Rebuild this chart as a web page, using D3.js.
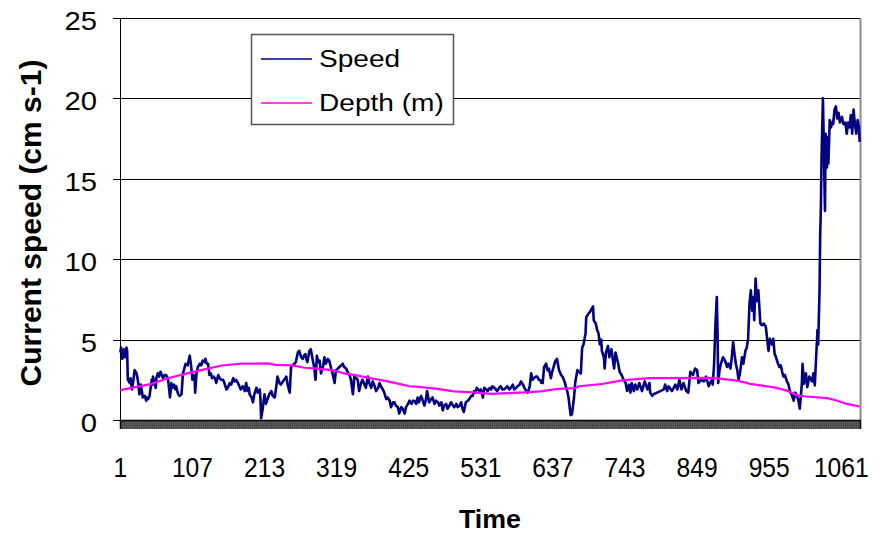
<!DOCTYPE html>
<html>
<head>
<meta charset="utf-8">
<script src="https://cdn.jsdelivr.net/npm/d3@7"></script>
<style>
  body { margin: 0; background: #fff; }
  svg { display: block; }
</style>
</head>
<body>
<svg id="chart" width="890" height="535"></svg>
<script>
// ---- data -------------------------------------------------------------
const categoryCount = 1088;                       // number of time steps on the category axis
const xTickLabels = [1, 107, 213, 319, 425, 531, 637, 743, 849, 955, 1061];
const yTicks = [0, 5, 10, 15, 20, 25];
const seriesNames = ["Speed", "Depth (m)"];
const seriesColors = ["#000080", "#FF00FF"];

// current speed (cm s-1): [time step, value]
const speed = [
  [1,4.2],[2,4.5],[4,3.8],[6,4.4],[8,3.9],[10,4.5],[11,4.3],[12,2.5],[15,2.3],[16,2.6],[18,1.9],[20,2.4],
  [22,3.1],[25,2.9],[27,2.4],[29,1.6],[31,2.2],[33,1.7],[34,1.4],[37,1.5],[39,1.2],[40,1.4],[42,1.3],[44,1.5],
  [47,2.5],[48,2.2],[49,2.7],[51,2.3],[53,2.0],[54,2.6],[56,2.9],[58,2.7],[60,3.0],[62,2.8],[64,2.6],[66,2.8],
  [68,2.8],[71,2.6],[74,1.4],[76,2.3],[78,2.0],[80,2.2],[82,1.9],[83,2.1],[86,1.6],[88,1.5],[91,1.6],[93,2.9],
  [95,3.2],[97,3.5],[100,3.4],[103,4.0],[105,3.4],[107,2.5],[110,2.8],[111,1.7],[113,2.9],[115,3.3],[118,3.5],
  [120,3.4],[122,3.7],[125,3.6],[126,3.8],[128,3.5],[130,3.5],[132,2.8],[134,2.9],[136,2.6],[138,2.7],[140,2.6],
  [142,2.3],[145,2.8],[147,2.6],[149,2.5],[152,2.5],[154,2.3],[157,1.9],[159,2.0],[162,2.3],[164,2.2],[167,2.6],
  [169,2.4],[171,2.5],[174,2.3],[176,2.1],[178,1.9],[181,2.1],[184,1.8],[186,2.3],[188,1.8],[190,2.0],[191,1.6],
  [194,1.4],[196,1.1],[198,1.6],[201,2.0],[203,1.7],[206,1.9],[207,1.3],[208,0.1],[210,0.6],[213,1.6],[215,1.0],
  [220,1.6],[223,1.8],[225,1.5],[228,1.4],[230,2.0],[232,2.7],[235,2.3],[237,2.2],[240,2.4],[242,2.5],[245,2.7],
  [247,2.2],[250,1.7],[252,3.3],[254,3.4],[257,3.5],[259,3.6],[262,4.2],[264,4.3],[267,3.9],[269,3.8],[271,4.0],
  [273,4.1],[275,3.7],[276,3.6],[279,4.3],[281,4.4],[284,3.7],[286,3.3],[288,2.5],[290,4.0],[292,3.6],[294,3.7],
  [296,2.9],[299,3.3],[301,3.9],[303,3.5],[306,3.8],[308,3.7],[311,3.2],[313,2.9],[316,2.3],[318,3.1],[321,3.2],
  [323,3.3],[326,3.4],[328,3.5],[330,3.3],[333,3.2],[335,3.0],[338,2.8],[340,2.5],[343,1.6],[345,2.7],[348,2.6],
  [350,2.5],[352,1.8],[355,2.3],[357,2.5],[360,2.2],[362,2.0],[365,2.7],[367,2.3],[370,2.0],[372,2.4],[375,2.1],
  [377,1.8],[380,2.0],[382,2.3],[384,2.1],[387,1.9],[389,1.7],[392,1.3],[394,1.4],[397,1.2],[399,0.8],[402,1.1],
  [404,1.1],[406,0.9],[409,0.8],[411,0.4],[414,0.8],[416,0.7],[419,0.4],[421,0.8],[424,1.0],[426,1.2],[429,1.0],
  [431,1.2],[433,1.2],[436,1.0],[438,1.4],[440,1.1],[443,1.5],[445,1.3],[448,0.9],[450,1.2],[452,1.8],[455,1.1],
  [458,1.3],[460,1.4],[463,1.0],[465,1.2],[468,1.1],[470,0.9],[473,1.1],[475,0.6],[477,0.9],[480,1.0],[482,0.7],
  [485,0.9],[487,1.1],[490,0.9],[492,0.8],[495,1.0],[497,0.8],[500,0.9],[502,1.1],[504,0.7],[506,0.5],[509,1.1],
  [512,1.2],[514,1.3],[517,1.5],[519,1.5],[521,1.8],[523,1.7],[525,2.0],[529,1.8],[531,1.9],[534,1.4],[536,2.0],
  [539,1.9],[541,1.8],[544,2.0],[546,1.9],[548,2.1],[551,2.0],[553,1.9],[555,1.8],[558,2.0],[560,2.1],[563,1.9],
  [565,1.9],[568,2.0],[570,2.1],[573,1.9],[575,2.0],[578,2.2],[580,1.9],[583,2.0],[585,2.1],[588,2.2],[590,2.4],
  [593,2.2],[595,2.0],[598,1.8],[600,1.7],[603,2.1],[605,2.9],[607,2.5],[609,2.6],[612,2.7],[614,2.7],[616,2.5],
  [618,2.5],[620,2.3],[622,2.3],[624,3.3],[627,3.5],[629,3.1],[631,3.2],[634,2.6],[636,3.0],[638,3.3],[640,3.6],
  [641,3.7],[643,3.8],[646,3.1],[649,2.8],[651,2.7],[653,2.5],[654,2.4],[658,1.8],[660,1.4],[663,0.3],[665,0.35],
  [668,1.4],[670,2.4],[673,3.1],[675,3.0],[678,2.9],[680,4.5],[682,4.7],[685,5.4],[686,6.4],[689,6.6],[691,6.7],
  [694,6.9],[696,7.07],[697,6.2],[700,6.0],[702,5.6],[704,5.4],[706,4.7],[708,5.0],[709,4.3],[712,3.9],[713,3.2],
  [715,4.2],[718,4.6],[720,3.9],[723,4.4],[727,3.2],[729,4.2],[733,3.5],[735,3.0],[738,2.8],[741,2.5],[744,2.3],
  [746,1.8],[749,2.2],[751,1.7],[753,2.3],[756,1.8],[758,2.2],[761,1.9],[764,2.3],[768,1.8],[772,2.4],[776,1.9],
  [779,2.3],[780,1.7],[783,1.5],[785,1.6],[790,1.7],[795,1.8],[800,1.9],[802,2.2],[805,1.8],[807,2.1],[812,1.8],
  [817,2.2],[820,1.9],[823,2.5],[826,1.9],[829,2.3],[833,1.8],[836,1.7],[839,3.0],[843,2.8],[846,3.2],[849,3.1],
  [851,2.3],[855,2.5],[859,2.4],[862,2.7],[866,2.1],[868,2.3],[871,2.5],[872,2.2],[874,3.5],[876,6.0],[878,7.65],
  [879,5.6],[880,2.3],[882,3.1],[884,3.5],[887,3.9],[890,3.7],[893,3.3],[895,3.5],[898,3.2],[900,3.9],[902,4.85],
  [904,4.1],[906,3.5],[908,3.1],[910,2.5],[912,2.9],[915,3.9],[917,3.5],[920,4.3],[922,4.5],[924,5.05],[926,7.2],
  [928,8.06],[930,6.8],[932,7.65],[933,6.2],[935,8.79],[937,7.4],[939,8.06],[942,6.0],[944,5.9],[947,6.0],[950,5.8],
  [952,5.05],[954,4.3],[956,5.05],[959,4.7],[961,5.05],[963,4.1],[965,3.9],[968,3.5],[970,3.3],[972,3.4],[974,3.0],
  [976,2.7],[978,2.8],[981,2.4],[983,2.25],[986,1.7],[988,1.6],[991,1.2],[993,1.7],[995,1.6],[998,1.2],[1000,0.7],
  [1003,2.25],[1004,3.5],[1006,2.25],[1009,2.9],[1011,2.05],[1014,2.7],[1018,2.4],[1020,2.9],[1022,2.15],[1024,3.9],
  [1026,5.6],[1027,4.7],[1029,8.06],[1030,11.6],[1031,13.25],[1032,16.4],[1034,20.0],[1035,17.8],[1037,13.0],
  [1038,17.8],[1040,15.7],[1041,17.6],[1042,15.95],[1044,18.65],[1046,18.2],[1047,18.5],[1049,18.4],[1051,19.3],
  [1053,19.5],[1055,18.75],[1057,19.1],[1059,18.5],[1062,18.85],[1064,18.4],[1067,18.5],[1069,17.8],[1071,18.5],
  [1073,18.2],[1075,18.96],[1077,17.8],[1079,19.3],[1081,18.4],[1083,17.8],[1085,18.65],[1087,18.2],[1088,17.3]
];

// water depth (m): [time step, value]
const depth = [
  [1,1.86],[47,2.25],[71,2.6],[96,2.87],[120,3.1],[150,3.39],[179,3.5],[218,3.52],[230,3.43],[254,3.4],
  [272,3.25],[289,3.2],[313,3.1],[328,2.92],[348,2.78],[372,2.57],[392,2.42],[411,2.25],[426,2.1],[440,2.06],
  [467,1.94],[492,1.78],[521,1.72],[546,1.63],[570,1.67],[595,1.72],[619,1.78],[644,1.94],[670,1.98],[675,2.1],
  [709,2.24],[739,2.46],[778,2.6],[871,2.62],[902,2.48],[917,2.36],[927,2.25],[942,2.15],[966,2.0],[981,1.83],
  [996,1.53],[1010,1.46],[1040,1.36],[1054,1.21],[1069,1.0],[1088,0.84]
];

// ---- layout -----------------------------------------------------------
const plot = { left: 120, right: 860, top: 18, bottom: 420 };
const font = "'Liberation Sans', Arial, Helvetica, sans-serif";
const stretch = 1.17;   // wide glyph proportions used for the value-axis and legend text

const svg = d3.select("#chart");

const x = d3.scaleLinear()
  .domain([0.5, categoryCount + 0.5])
  .range([plot.left, plot.right]);
const y = d3.scaleLinear()
  .domain([0, 25])
  .range([plot.bottom, plot.top]);

// horizontal gridlines
const grid = svg.append("g")
  .attr("transform", `translate(${plot.left},0)`)
  .call(d3.axisLeft(y).tickValues(yTicks.filter(d => d > 0))
    .tickSize(-(plot.right - plot.left)).tickFormat(""));
grid.select(".domain").remove();
grid.selectAll(".tick line").attr("stroke", "#000").attr("shape-rendering", "crispEdges");

// plot area border on the right
svg.append("line")
  .attr("x1", plot.right + 0.5).attr("x2", plot.right + 0.5)
  .attr("y1", plot.top).attr("y2", plot.bottom)
  .attr("stroke", "#8c8c8c").attr("stroke-width", 2);

// left value axis
const yAxis = svg.append("g")
  .attr("transform", `translate(${plot.left},0)`)
  .call(d3.axisLeft(y).tickValues(yTicks).tickSize(7).tickFormat(""));
yAxis.selectAll("line, path").attr("stroke", "#000").attr("shape-rendering", "crispEdges");

svg.append("g").selectAll("text")
  .data(yTicks)
  .join("text")
  .attr("transform", d => `translate(97,${y(d) + 12}) scale(${stretch},1)`)
  .attr("text-anchor", "end")
  .attr("font-family", font)
  .attr("font-size", 25)
  .attr("fill", "#000")
  .text(d => d);

// series lines
const line = d3.line()
  .x(d => x(d[0]))
  .y(d => y(d[1]));

svg.append("path")
  .datum(speed)
  .attr("d", line)
  .attr("fill", "none")
  .attr("stroke", seriesColors[0])
  .attr("stroke-width", 2.6)
  .attr("stroke-linejoin", "round");

svg.append("path")
  .datum(depth)
  .attr("d", line)
  .attr("fill", "none")
  .attr("stroke", seriesColors[1])
  .attr("stroke-width", 2.2)
  .attr("stroke-linejoin", "round");

// bottom category axis: one tick mark per time step
const boundaries = d3.range(0, categoryCount + 1).map(i => i + 0.5);
const xAxis = svg.append("g")
  .attr("transform", `translate(0,${plot.bottom})`)
  .call(d3.axisBottom(x).tickValues(boundaries).tickSize(9).tickFormat(""));
xAxis.selectAll(".tick line").attr("stroke", "#000").attr("stroke-width", 0.6);
xAxis.select(".domain").attr("stroke", "#000").attr("stroke-width", 1.5);

svg.append("g").selectAll("text")
  .data(xTickLabels)
  .join("text")
  .attr("transform", d => `translate(${x(d)},477) scale(0.88,1)`)
  .attr("text-anchor", "middle")
  .attr("font-family", font)
  .attr("font-size", 28)
  .attr("fill", "#000")
  .text(d => d);

// axis titles
svg.append("text")
  .attr("transform", `translate(41,223) rotate(-90)`)
  .attr("text-anchor", "middle")
  .attr("font-family", font)
  .attr("font-weight", "bold")
  .attr("font-size", 29)
  .attr("textLength", 327)
  .attr("lengthAdjust", "spacingAndGlyphs")
  .text("Current speed (cm s-1)");

svg.append("text")
  .attr("transform", `translate(490,528) scale(1.03,1)`)
  .attr("text-anchor", "middle")
  .attr("font-family", font)
  .attr("font-weight", "bold")
  .attr("font-size", 26)
  .text("Time");

// legend
const legend = svg.append("g");
legend.append("rect")
  .attr("x", 251.5).attr("y", 34.5)
  .attr("width", 202).attr("height", 90)
  .attr("fill", "#fff").attr("stroke", "#555").attr("stroke-width", 1.5);

const legendRows = legend.selectAll("g.row")
  .data(seriesNames)
  .join("g")
  .attr("class", "row")
  .attr("transform", (d, i) => `translate(0,${i === 0 ? 59 : 103})`);

legendRows.append("line")
  .attr("x1", 261).attr("x2", 312)
  .attr("stroke", (d, i) => seriesColors[i])
  .attr("stroke-width", 1.5);

legendRows.append("text")
  .attr("transform", `translate(319,8) scale(${stretch},1)`)
  .attr("font-family", font)
  .attr("font-size", 24)
  .attr("fill", "#000")
  .text(d => d);
</script>
</body>
</html>
